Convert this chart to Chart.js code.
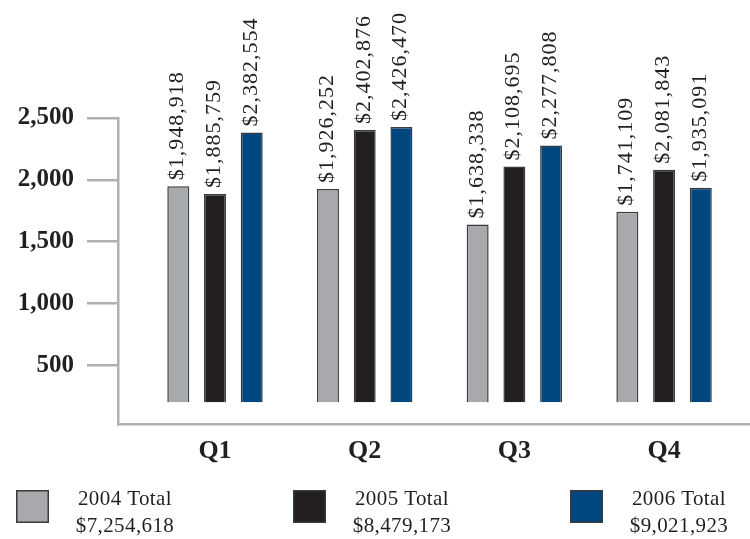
<!DOCTYPE html>
<html>
<head>
<meta charset="utf-8">
<script src="https://cdn.jsdelivr.net/npm/chart.js@4.4.1/dist/chart.umd.min.js"></script>
<style>
  html, body { margin: 0; padding: 0; background: #ffffff; }
  #wrap { width: 750px; height: 539px; position: relative; }
</style>
</head>
<body>
<div id="wrap"><canvas id="salesChart"></canvas></div>
<script>
// Quarterly sales, in dollars
const quarters = ['Q1', 'Q2', 'Q3', 'Q4'];
const years = ['2004', '2005', '2006'];
const sales2004 = [1948918, 1926252, 1638338, 1741109];
const sales2005 = [1885759, 2402876, 2108695, 2081843];
const sales2006 = [2382554, 2426470, 2277808, 1935091];
const yearTotals = [7254618, 8479173, 9021923];
const yTicks = [500, 1000, 1500, 2000, 2500];   // thousands of dollars
const barBase = 200;                              // bars rise from this level (thousands)

const seriesList = [sales2004, sales2005, sales2006];
const fills = ['#a7a9ac', '#231f20', '#00467f'];
const outline = '#3b3b3b';
const axisGray = '#aeb0b2';
const ink = '#231f20';
const serif = '"Liberation Serif", "Times New Roman", serif';

const money = v => '$' + v.toLocaleString('en-US');

// Rotated dollar amounts above each bar
const barValueLabels = {
  id: 'barValueLabels',
  afterDatasetsDraw(chart) {
    const ctx = chart.ctx;
    ctx.save();
    ctx.font = '22px ' + serif;
    ctx.letterSpacing = '1px';
    ctx.fillStyle = ink;
    ctx.textAlign = 'left';
    ctx.textBaseline = 'alphabetic';
    chart.data.datasets.forEach((ds, di) => {
      chart.getDatasetMeta(di).data.forEach((bar, i) => {
        ctx.save();
        ctx.translate(bar.x + 5, bar.y - 6);
        ctx.rotate(-Math.PI / 2);
        ctx.fillText(money(seriesList[di][i]), 0, 0);
        ctx.restore();
      });
    });
    ctx.restore();
  }
};

// Legend row: swatch plus "year Total" and the yearly sum
const totalsLegend = {
  id: 'totalsLegend',
  afterDraw(chart) {
    const ctx = chart.ctx;
    const left = 16, step = 277, top = 490, box = 33;
    ctx.save();
    chart.data.datasets.forEach((ds, i) => {
      const x = left + i * step;
      ctx.fillStyle = ds.backgroundColor;
      ctx.fillRect(x, top, box, box);
      ctx.strokeStyle = outline;
      ctx.lineWidth = 1.5;
      ctx.strokeRect(x + 0.75, top + 0.75, box - 1.5, box - 1.5);
      ctx.fillStyle = ink;
      ctx.font = '21px ' + serif;
      ctx.letterSpacing = '0.4px';
      ctx.textAlign = 'center';
      ctx.textBaseline = 'alphabetic';
      const cx = x + 109;
      ctx.fillText(years[i] + ' Total', cx, 505);
      ctx.fillText(money(yearTotals[i]), cx, 532);
    });
    ctx.restore();
  }
};

const datasets = seriesList.map((series, i) => ({
  label: years[i],
  data: series.map((v, qi) => ({ x: qi + 1, y: v / 1000 })),
  base: barBase,
  backgroundColor: fills[i],
  borderColor: outline,
  borderWidth: 1.5,
  categoryPercentage: 0.736,
  barPercentage: 0.598
}));

new Chart(document.getElementById('salesChart'), {
  type: 'bar',
  data: { datasets },
  plugins: [barValueLabels, totalsLegend],
  options: {
    responsive: true,
    maintainAspectRatio: false,
    animation: false,
    layout: { padding: { top: 118, right: 0, bottom: 75, left: 0 } },
    plugins: { legend: { display: false }, tooltip: { enabled: false } },
    scales: {
      x: {
        type: 'linear',
        offset: false,
        bounds: 'data',
        min: 0.352,
        max: 4.574,
        afterBuildTicks: s => { s.ticks = quarters.map((q, i) => ({ value: i + 1 })); },
        afterFit: s => { s.height = 40; },
        grid: { display: false, drawTicks: false, offset: false },
        border: { display: true, color: axisGray, width: 2.5 },
        ticks: {
          autoSkip: false,
          maxRotation: 0,
          padding: 12,
          color: ink,
          font: { family: serif, size: 26, weight: 'bold' },
          callback: v => quarters[Math.round(v) - 1]
        }
      },
      y: {
        min: 25,   // floor line sits just above zero
        max: 2500,
        afterBuildTicks: s => { s.ticks = yTicks.map(v => ({ value: v })); },
        afterFit: s => { s.width = 118; },
        grid: { drawOnChartArea: false, drawTicks: true, tickLength: 31, color: axisGray, lineWidth: 2.5 },
        border: { display: true, color: axisGray, width: 2.5 },
        ticks: {
          padding: 13,
          color: ink,
          font: { family: serif, size: 25, weight: 'bold' },
          callback: v => v.toLocaleString('en-US')
        }
      }
    }
  }
});
</script>
</body>
</html>
